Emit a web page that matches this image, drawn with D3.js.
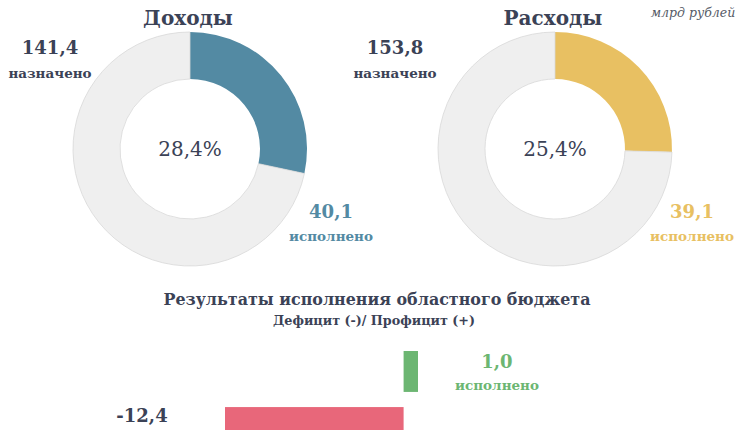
<!DOCTYPE html>
<html><head><meta charset="utf-8">
<script src="https://cdn.jsdelivr.net/npm/d3@7"></script>
<style>body{margin:0;background:#fff}svg{display:block}</style>
</head><body>
<svg id="c" width="750" height="430"></svg>
<script>
// Data
const donutTitles = ["Доходы", "Расходы"];
const plannedValues = [141.4, 153.8];
const executedValues = [40.1, 39.1];
const executedPercents = ["28,4%", "25,4%"];
const donutColors = ["#538aa3", "#e8c062"];
const balanceLabels = ["исполнено", "назначено"];
const balanceValues = [1.0, -12.4];
const balanceColors = ["#6cb672", "#e8677a"];

const fmt = v => d3.format(".1f")(v).replace(".", ",").replace("\u2212", "-");
const svg = d3.select("#c");
const ink = "#3b4256";
const serif = "'DejaVu Serif', serif";

const centers = [190, 555];
const cy = 149, rOut = 117, rIn = 70;
const arc = d3.arc().innerRadius(rIn).outerRadius(rOut);
const pie = d3.pie().sort(null).value(d => d);

donutTitles.forEach((t, i) => {
  const g = svg.append("g").attr("transform", `translate(${centers[i]},${cy})`);
  const done = executedValues[i], rest = plannedValues[i] - executedValues[i];
  const arcs = pie([done, rest]);
  g.selectAll("path").data(arcs).join("path")
    .attr("d", arc)
    .attr("fill", (d, j) => j === 0 ? donutColors[i] : "#efefef")
    .attr("stroke", (d, j) => j === 0 ? "none" : "#d8d8d8")
    .attr("stroke-width", 0.8);
  g.append("text").attr("y", 7).attr("text-anchor", "middle")
    .attr("font-family", serif).attr("font-size", 20).attr("fill", ink)
    .text(executedPercents[i]);
  svg.append("text").attr("x", centers[i] - 2).attr("y", 25).attr("text-anchor", "middle")
    .attr("font-family", serif).attr("font-weight", "bold").attr("font-size", 20).attr("fill", ink)
    .text(t);
});

const planX = [50, 395], execX = [331, 692];
plannedValues.forEach((v, i) => {
  svg.append("text").attr("x", planX[i]).attr("y", 54).attr("text-anchor", "middle")
    .attr("font-family", serif).attr("font-weight", "bold").attr("font-size", 18).attr("fill", ink)
    .text(fmt(v));
  svg.append("text").attr("x", planX[i]).attr("y", 78).attr("text-anchor", "middle")
    .attr("font-family", serif).attr("font-weight", "bold").attr("font-size", 13.5).attr("fill", ink)
    .text("назначено");
  svg.append("text").attr("x", execX[i]).attr("y", 218).attr("text-anchor", "middle")
    .attr("font-family", serif).attr("font-weight", "bold").attr("font-size", 18).attr("fill", donutColors[i])
    .text(fmt(executedValues[i]));
  svg.append("text").attr("x", execX[i]).attr("y", 241).attr("text-anchor", "middle")
    .attr("font-family", serif).attr("font-weight", "bold").attr("font-size", 13.5).attr("fill", donutColors[i])
    .text("исполнено");
});

svg.append("text").attr("x", 693).attr("y", 17).attr("text-anchor", "middle")
  .attr("font-family", serif).attr("font-style", "italic").attr("font-size", 12.5).attr("fill", "#555a66")
  .text("млрд рублей");

svg.append("text").attr("x", 377).attr("y", 305).attr("text-anchor", "middle")
  .attr("font-family", serif).attr("font-weight", "bold").attr("font-size", 16.5).attr("fill", ink)
  .attr("textLength", 427).attr("lengthAdjust", "spacingAndGlyphs")
  .text("Результаты исполнения  областного бюджета");
svg.append("text").attr("x", 374).attr("y", 325).attr("text-anchor", "middle")
  .attr("font-family", serif).attr("font-weight", "bold").attr("font-size", 13).attr("fill", ink)
  .attr("textLength", 202).attr("lengthAdjust", "spacingAndGlyphs")
  .text("Дефицит  (-)/ Профицит  (+)");

// Bars
const x = d3.scaleLinear().domain([-12.4, 1.0]).range([225, 418]);
const y = d3.scaleBand().domain(balanceLabels).range([351, 448]).paddingInner(0.27);
svg.selectAll("rect.bal").data(balanceValues).join("rect").attr("class", "bal")
  .attr("x", d => x(Math.min(0, d)))
  .attr("width", d => Math.abs(x(d) - x(0)))
  .attr("y", (d, i) => y(balanceLabels[i]))
  .attr("height", y.bandwidth())
  .attr("fill", (d, i) => balanceColors[i]);

svg.append("text").attr("x", 497).attr("y", 368).attr("text-anchor", "middle")
  .attr("font-family", serif).attr("font-weight", "bold").attr("font-size", 18).attr("fill", balanceColors[0])
  .text(fmt(balanceValues[0]));
svg.append("text").attr("x", 497).attr("y", 390).attr("text-anchor", "middle")
  .attr("font-family", serif).attr("font-weight", "bold").attr("font-size", 13.5).attr("fill", balanceColors[0])
  .text(balanceLabels[0]);
svg.append("text").attr("x", 142).attr("y", 422).attr("text-anchor", "middle")
  .attr("font-family", serif).attr("font-weight", "bold").attr("font-size", 18).attr("fill", ink)
  .text(fmt(balanceValues[1]));
</script>
</body></html>
